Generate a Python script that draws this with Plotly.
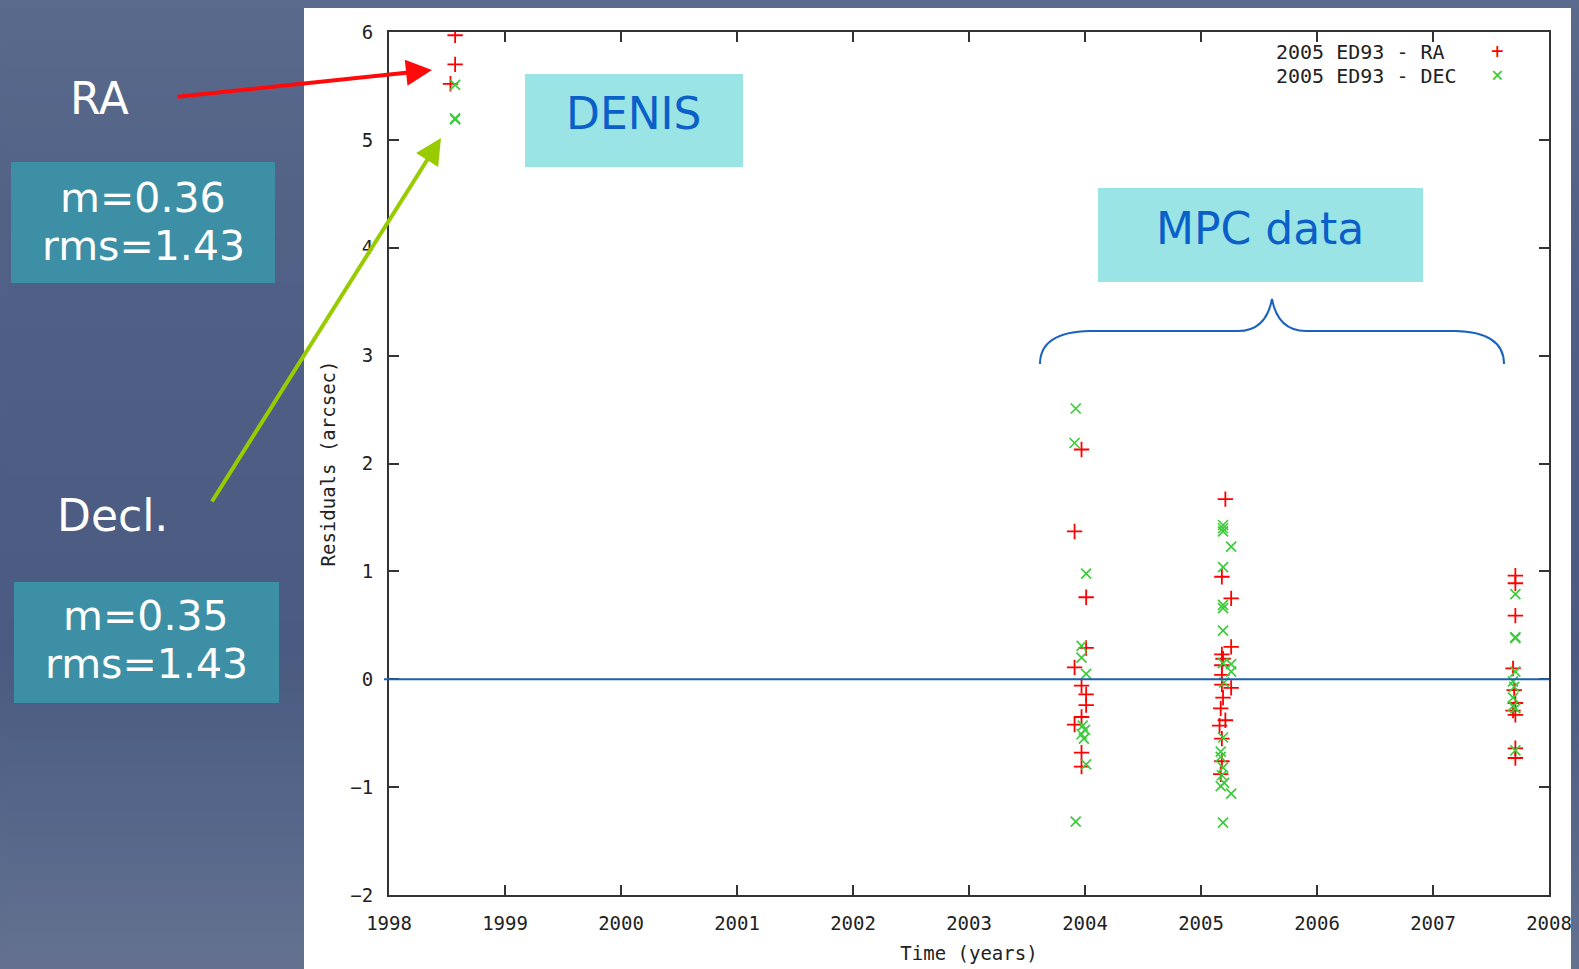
import plotly.graph_objects as go

# figure is drawn 8px in from the page corner (browser body margin)
OFF = 8
W, H = 1579 - OFF, 969 - OFF

# ---------------- data ----------------
ra_year = [1998.57, 1998.57, 1998.53,
           2003.97, 2003.91, 2004.01, 2004.01, 2003.91, 2003.97, 2004.01, 2004.01,
           2003.97, 2003.91, 2003.97, 2003.97,
           2005.21, 2005.18, 2005.26, 2005.26, 2005.18, 2005.19, 2005.18, 2005.18,
           2005.18, 2005.26, 2005.19, 2005.17, 2005.21, 2005.16, 2005.18, 2005.18, 2005.17,
           2007.71, 2007.71, 2007.71, 2007.69, 2007.70, 2007.71, 2007.69, 2007.71,
           2007.71, 2007.71]
ra_resid = [5.97, 5.70, 5.52,
            2.13, 1.37, 0.76, 0.29, 0.11, -0.06, -0.14, -0.24,
            -0.35, -0.42, -0.68, -0.81,
            1.67, 0.95, 0.75, 0.30, 0.23, 0.19, 0.13, 0.04,
            -0.05, -0.08, -0.17, -0.27, -0.38, -0.43, -0.55, -0.76, -0.88,
            0.96, 0.89, 0.59, 0.10, -0.10, -0.22, -0.29, -0.33,
            -0.64, -0.73]

dec_year = [1998.57, 1998.57, 1998.57,
            2003.92, 2003.91, 2004.01, 2003.97, 2003.97, 2004.01, 2003.98, 2004.00,
            2003.97, 2003.99, 2004.01, 2003.92,
            2005.19, 2005.19, 2005.19, 2005.26, 2005.19, 2005.19, 2005.19, 2005.19,
            2005.19, 2005.26, 2005.26, 2005.20, 2005.19, 2005.17, 2005.17, 2005.19,
            2005.18, 2005.20, 2005.17, 2005.26, 2005.19,
            2007.71, 2007.71, 2007.71, 2007.71, 2007.69, 2007.70, 2007.69, 2007.69,
            2007.71, 2007.71]
dec_resid = [5.51, 5.20, 5.19,
             2.51, 2.19, 0.98, 0.31, 0.20, 0.05, -0.43, -0.47,
             -0.51, -0.55, -0.79, -1.32,
             1.43, 1.40, 1.37, 1.23, 1.04, 0.69, 0.66, 0.45,
             0.15, 0.14, 0.07, -0.03, -0.54, -0.67, -0.72, -0.82,
             -0.89, -0.96, -0.99, -1.06, -1.33,
             0.79, 0.38, 0.39, 0.07, -0.02, -0.07, -0.17, -0.25,
             -0.27, -0.66]

x_ticks = [1998, 1999, 2000, 2001, 2002, 2003, 2004, 2005, 2006, 2007, 2008]
y_ticks = [-2, -1, 0, 1, 2, 3, 4, 5, 6]
legend_labels = ["2005 ED93 - RA", "2005 ED93 - DEC"]


def px(x):
    return (x - OFF) / W


def py(y):
    return 1 - (y - OFF) / H


RED = "#ff0000"
GREEN = "#3ccc3c"
MONO = "DejaVu Sans Mono"
SANS = "DejaVu Sans"

fig = go.Figure()
fig.add_trace(go.Scatter(
    x=ra_year, y=ra_resid, mode="markers", name=legend_labels[0],
    marker=dict(symbol="cross-thin", size=11, line=dict(color=RED, width=1.8)),
    showlegend=False))
fig.add_trace(go.Scatter(
    x=dec_year, y=dec_resid, mode="markers", name=legend_labels[1],
    marker=dict(symbol="x-thin", size=10, line=dict(color=GREEN, width=1.7)),
    showlegend=False))

shapes = []
# slide background: smooth vertical gradient built from thin bands
stops = [(0, (90, 106, 140)), (300, (79, 95, 133)), (650, (74, 90, 128)),
         (800, (84, 101, 137)), (969, (100, 114, 143))]


def interp(y):
    for (y0, c0), (y1, c1) in zip(stops[:-1], stops[1:]):
        if y0 <= y <= y1:
            t = (y - y0) / (y1 - y0)
            return tuple(round(a + (b - a) * t) for a, b in zip(c0, c1))
    return stops[-1][1]


step = 12
for y0 in range(OFF, 969, step):
    c = interp(y0 + step / 2)
    shapes.append(dict(type="rect", xref="paper", yref="paper", layer="below",
                       x0=0, x1=1, y0=max(py(y0 + step + 1), 0), y1=py(y0),
                       fillcolor="rgb(%d,%d,%d)" % c, line=dict(width=0)))
# white plot panel
shapes.append(dict(type="rect", xref="paper", yref="paper", layer="below",
                   x0=px(304), x1=1, y0=0, y1=py(8), fillcolor="white", line=dict(width=0)))
# zero line
shapes.append(dict(type="line", xref="paper", yref="y", x0=px(384), x1=px(1549), y0=0, y1=0,
                   line=dict(color="#1a5fb0", width=2)))
# stat boxes
shapes.append(dict(type="rect", xref="paper", yref="paper", x0=px(11), x1=px(275),
                   y0=py(283), y1=py(162), fillcolor="#3d8fa6", line=dict(width=0)))
shapes.append(dict(type="rect", xref="paper", yref="paper", x0=px(14), x1=px(279),
                   y0=py(703), y1=py(582), fillcolor="#3d8fa6", line=dict(width=0)))
# DENIS / MPC boxes
shapes.append(dict(type="rect", xref="paper", yref="paper", x0=px(525), x1=px(743),
                   y0=py(167), y1=py(74), fillcolor="#9ae4e6", line=dict(width=0)))
shapes.append(dict(type="rect", xref="paper", yref="paper", x0=px(1098), x1=px(1423),
                   y0=py(282), y1=py(188), fillcolor="#9ae4e6", line=dict(width=0)))


# curly brace
def P(x, y):
    return f"{px(x):.5f},{py(y):.5f}"


brace = ("M " + P(1040, 364) + " Q " + P(1040, 332) + " " + P(1090, 331) +
         " L " + P(1238, 331) + " Q " + P(1266, 331) + " " + P(1272, 299) +
         " Q " + P(1278, 331) + " " + P(1306, 331) + " L " + P(1455, 331) +
         " Q " + P(1504, 332) + " " + P(1504, 364))
shapes.append(dict(type="path", xref="paper", yref="paper", path=brace,
                   line=dict(color="#1a63c0", width=2)))

annotations = []


def txt(x, y, s, size, color, family=SANS, xanchor="center"):
    annotations.append(dict(x=px(x), y=py(y), xref="paper", yref="paper", text=s,
                            showarrow=False, xanchor=xanchor, yanchor="middle",
                            font=dict(size=size, color=color, family=family)))


txt(99, 98, "RA", 44, "white")
txt(113, 515, "Decl.", 44, "white")
txt(143, 198, "m=0.36", 41, "white")
txt(143, 246, "rms=1.43", 41, "white")
txt(146, 616, "m=0.35", 41, "white")
txt(146, 664, "rms=1.43", 41, "white")
txt(634, 113, "DENIS", 44, "#0a5fc8")
txt(1260, 228, "MPC data", 44, "#0a5fc8")

# legend (gnuplot style: text then symbol)
txt(1274, 52, legend_labels[0], 20, "#222222", MONO, "left")
txt(1274, 76, legend_labels[1], 20, "#222222", MONO, "left")
txt(1497, 51, "+", 21, RED, MONO)
txt(1497, 75, "×", 21, GREEN, MONO)

# arrows
annotations.append(dict(x=px(432), y=py(70), xref="paper", yref="paper", text="",
                        showarrow=True, ax=176 - 432, ay=97 - 70, axref="pixel", ayref="pixel",
                        arrowcolor="#ff0a0a", arrowwidth=4, arrowhead=2, arrowsize=1.3,
                        standoff=0, startstandoff=0))
annotations.append(dict(x=px(441), y=py(138), xref="paper", yref="paper", text="",
                        showarrow=True, ax=211 - 441, ay=503 - 138, axref="pixel", ayref="pixel",
                        arrowcolor="#99cc00", arrowwidth=4, arrowhead=2, arrowsize=1.3,
                        standoff=0, startstandoff=0))

axis_common = dict(showline=True, linecolor="#333333", linewidth=2, mirror="ticks",
                   ticks="inside", ticklen=10, tickwidth=1.5, tickcolor="#333333",
                   showgrid=False, zeroline=False, automargin=False,
                   tickfont=dict(family=MONO, size=19, color="#222222"))

fig.update_layout(
    width=W, height=H, margin=dict(l=0, r=0, t=0, b=0, pad=0, autoexpand=False),
    paper_bgcolor="#4d5d83", plot_bgcolor="white",
    shapes=shapes, annotations=annotations, showlegend=False,
    xaxis=dict(domain=[px(389), px(1549)], range=[1998, 2008], tickvals=x_ticks,
               ticktext=[str(t) for t in x_ticks], ticklabelstandoff=10,
               title=dict(text="Time (years)", font=dict(family=MONO, size=19, color="#222222"),
                          standoff=14),
               **axis_common),
    yaxis=dict(domain=[py(895), py(32)], range=[-2, 6], tickvals=y_ticks,
               ticktext=[str(t).replace("-", "−") for t in y_ticks], ticklabelstandoff=10,
               title=dict(text="Residuals (arcsec)", font=dict(family=MONO, size=19, color="#222222"),
                          standoff=10),
               **axis_common),
)

grad = ", ".join("rgb(%d,%d,%d) %dpx" % (c[0], c[1], c[2], y) for y, c in stops)
page_js = ("document.body.style.background='transparent';"
           "document.documentElement.style.background="
           "'linear-gradient(" + grad + ") no-repeat, rgb(100,114,143)';")

fig.write_html("out.html", post_script=page_js)
